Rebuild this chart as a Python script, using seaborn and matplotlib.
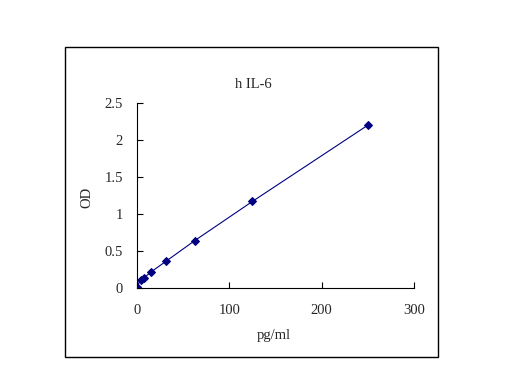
import matplotlib
matplotlib.use("Agg")
import matplotlib.pyplot as plt
import seaborn as sns
import pandas as pd
from matplotlib.patches import Rectangle

conc = [0, 3.9, 7.8, 15.6, 31.25, 62.5, 125, 250]
od = [0.02, 0.11, 0.14, 0.22, 0.36, 0.64, 1.17, 2.20]
xticks = [0, 100, 200, 300]
yticks = [0, 0.5, 1, 1.5, 2, 2.5]
yticklabels = ["0", "0.5", "1", "1.5", "2", "2.5"]

sns.set_style("white")
plt.rcParams['font.family'] = ['Liberation Serif', 'DejaVu Serif']

df = pd.DataFrame({"pg/ml": conc, "OD": od})
fig = plt.figure(figsize=(5.12, 3.84), dpi=100)
fig.patch.set_facecolor("white")
fig.add_artist(Rectangle((65/512, 1-357/384), (438-65)/512, (357-47)/384,
                         transform=fig.transFigure, fill=False, edgecolor="black", linewidth=1))
ax = fig.add_axes([137/512, 1-288/384, (414-137)/512, (288-103)/384])
ax.set_facecolor("white")
sns.lineplot(data=df, x="pg/ml", y="OD", ax=ax, color="#000080", linewidth=0.8,
             marker="D", markersize=4, markeredgecolor="#000080", markerfacecolor="#000080")
ax.set_xlim(0, 300)
ax.set_ylim(0, 2.5)
ax.set_xticks(xticks)
ax.set_xticklabels([str(t) for t in xticks], fontsize=10.5)
ax.set_yticks(yticks)
ax.set_yticklabels(yticklabels, fontsize=10.5)
for s in ["top", "right"]:
    ax.spines[s].set_visible(False)
for s in ["left", "bottom"]:
    ax.spines[s].set_color("black")
    ax.spines[s].set_linewidth(0.8)
ax.tick_params(axis="x", bottom=True, direction="in", length=4, width=0.8, color="black", pad=11.5)
ax.tick_params(axis="y", left=True, direction="in", length=4, width=0.8, color="black", pad=10)
ax.set_xlabel("")
ax.set_ylabel("")
fig.text(253/512, 1-85/384, "h IL-6", ha="center", va="center", fontsize=10.5)
fig.text(274/512, 1-335/384, "pg/ml", ha="center", va="center", fontsize=10.5)
fig.text(87/512, 1-197/384, "OD", ha="center", va="center", rotation=90, fontsize=10.5)
fig.savefig("out.png", dpi=100, facecolor="white")
